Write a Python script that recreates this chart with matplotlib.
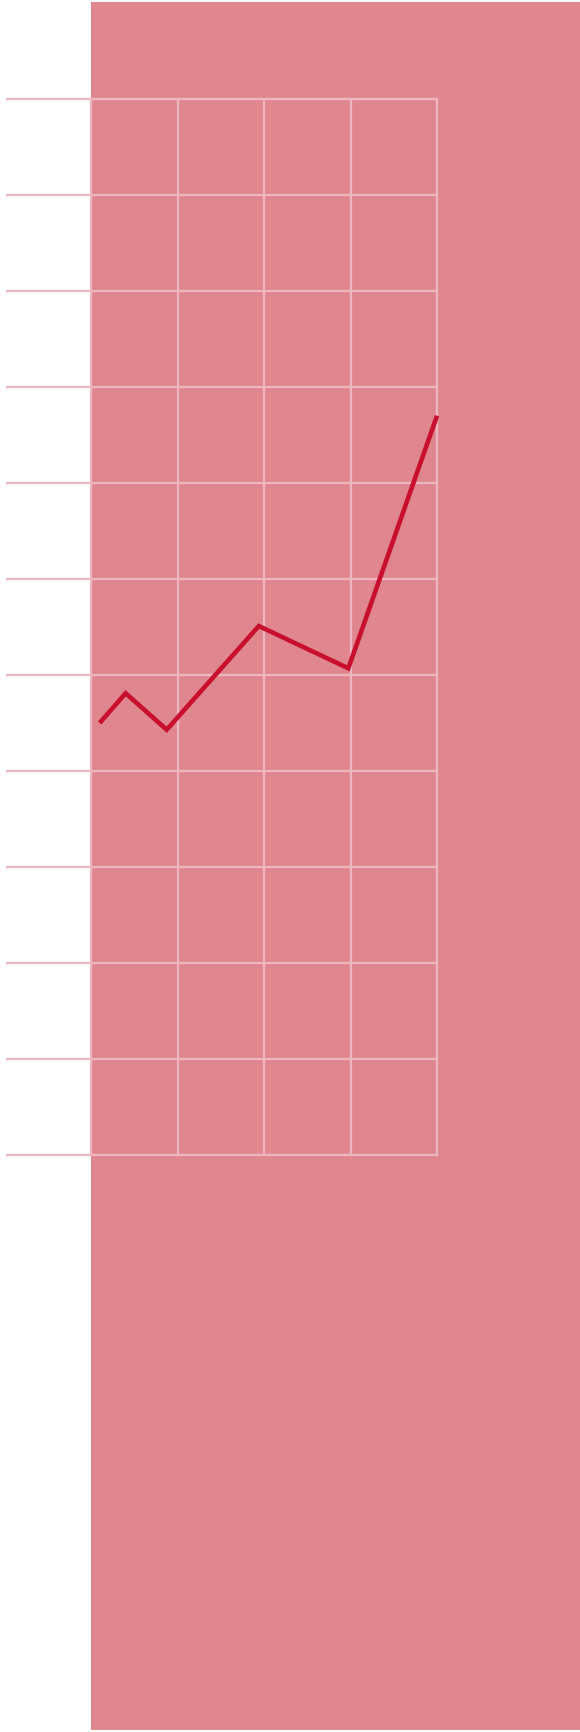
import numpy as np
import matplotlib
matplotlib.use("Agg")
from matplotlib import pyplot as plt
from matplotlib.patches import Rectangle

# series
x_vals = [0.1, 0.4, 0.875, 1.94, 2.975, 4.0]
y_vals = [4.5, 4.81, 4.43, 5.51, 5.07, 7.70]
x_ticks = [0, 1, 2, 3, 4]
y_ticks = list(range(0, 12))

W, H = 580, 1732
fig = plt.figure(figsize=(W / 100, H / 100), dpi=100)
fig.patch.set_facecolor("white")

# pink panel behind the chart
fig.add_artist(Rectangle((91 / W, 1 - 1730 / H), (580 - 91) / W, (1730 - 2) / H,
                         transform=fig.transFigure, facecolor="#e0868f",
                         edgecolor="none", zorder=0))

ax = fig.add_axes([91 / W, 1 - 1155 / H, (437 - 91) / W, (1155 - 99) / H])
ax.patch.set_alpha(0)
ax.set_xlim(0, 4)
ax.set_ylim(0, 11)
ax.set_xticks(x_ticks)
ax.set_yticks(y_ticks)
ax.set_xticklabels([])
ax.set_yticklabels([])

grid_col = "#eeb6c0"
ax.grid(True, color=grid_col, linewidth=1.6, zorder=1)
for s in ax.spines.values():
    s.set_color(grid_col)
    s.set_linewidth(1.6)
ax.tick_params(axis="x", length=0)
ax.tick_params(axis="y", direction="out", length=61, width=1.6, color="#f0b4be")

ax.plot(x_vals, y_vals, color="#c8102e", linewidth=3.3, zorder=3,
        solid_joinstyle="miter", solid_capstyle="butt", clip_on=False)

fig.savefig("out.png", dpi=100)
